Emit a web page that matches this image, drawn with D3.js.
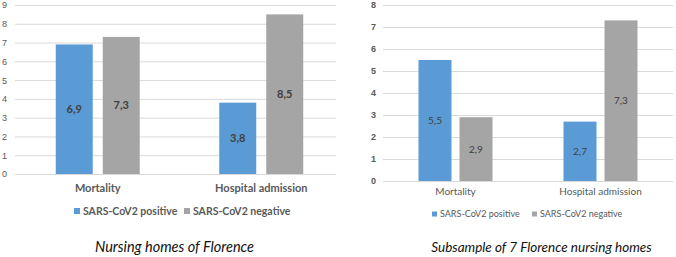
<!DOCTYPE html>
<html>
<head>
<meta charset="utf-8">
<script src="https://cdnjs.cloudflare.com/ajax/libs/d3/7.8.5/d3.min.js"></script>
<style>
    body { margin: 0; background: #fff; }
    svg { display: block; font-family: Lato, "Open Sans", sans-serif; }
</style>
</head>
<body>
<div id="chart"></div>
<script>
const categories = ['Mortality', 'Hospital admission'];
const seriesNames = ['SARS-CoV2 positive', 'SARS-CoV2 negative'];
const seriesColors = ['#5B9BD5', '#A5A5A5'];

const florencePositive = [6.9, 3.8];
const florenceNegative = [7.3, 8.5];
const florenceTicks = [0, 1, 2, 3, 4, 5, 6, 7, 8, 9];

const subsamplePositive = [5.5, 2.7];
const subsampleNegative = [2.9, 7.3];
const subsampleTicks = [0, 1, 2, 3, 4, 5, 6, 7, 8];

const titles = ['Nursing homes of Florence', 'Subsample of 7 Florence nursing homes'];

const itFormat = d3.formatLocale({ decimal: ',', thousands: '.', grouping: [3], currency: ['', '€'] }).format('.1f');

const svg = d3.select('#chart')
    .append('svg')
    .attr('width', 676)
    .attr('height', 257);

function drawPanel(cfg) {
    const g = svg.append('g');

    const x0 = d3.scaleBand()
        .domain(categories)
        .range([cfg.left, cfg.right]);

    const x1 = d3.scaleBand()
        .domain(seriesNames)
        .range([0, cfg.groupWidth])
        .paddingInner(cfg.barGap);

    const y = d3.scaleLinear()
        .domain([0, d3.max(cfg.ticks)])
        .range([cfg.bottom, cfg.top]);

    // gridlines + tick labels
    const yAxis = g.append('g')
        .attr('transform', `translate(${cfg.gridLeft},0)`)
        .call(d3.axisLeft(y)
            .tickValues(cfg.ticks)
            .tickSize(-(cfg.gridRight - cfg.gridLeft))
            .tickPadding(cfg.tickPadding)
            .tickFormat(d3.format('d')));
    yAxis.select('.domain').remove();
    yAxis.selectAll('line').attr('stroke', '#D9D9D9');
    yAxis.selectAll('text')
        .attr('fill', '#595959')
        .style('font-size', cfg.tickFont)
        .style('font-weight', cfg.tickWeight);

    const rows = categories.map((c, i) => ({
        category: c,
        values: [cfg.positive[i], cfg.negative[i]]
    }));

    const groups = g.selectAll('.group')
        .data(rows)
        .join('g')
        .attr('class', 'group')
        .attr('transform', d => `translate(${x0(d.category) + x0.bandwidth() / 2 - cfg.groupWidth / 2},0)`);

    const cells = groups.selectAll('.cell')
        .data(d => d.values.map((v, j) => ({ series: seriesNames[j], value: v, color: seriesColors[j] })))
        .join('g')
        .attr('class', 'cell');

    cells.append('rect')
        .attr('x', d => x1(d.series))
        .attr('y', d => y(d.value))
        .attr('width', x1.bandwidth())
        .attr('height', d => y(0) - y(d.value))
        .attr('fill', d => d.color);

    cells.append('text')
        .attr('x', d => x1(d.series) + x1.bandwidth() / 2)
        .attr('y', d => (y(d.value) + y(0)) / 2)
        .attr('dy', '0.35em')
        .attr('text-anchor', 'middle')
        .attr('fill', '#404040')
        .style('font-size', cfg.valueFont)
        .style('font-weight', cfg.valueWeight)
        .text(d => itFormat(d.value));

    // category labels
    g.selectAll('.cat')
        .data(categories)
        .join('text')
        .attr('class', 'cat')
        .attr('x', d => x0(d) + x0.bandwidth() / 2)
        .attr('y', cfg.catY)
        .attr('text-anchor', 'middle')
        .attr('fill', '#595959')
        .style('font-size', cfg.catFont)
        .style('font-weight', cfg.catWeight)
        .text(d => d);

    // legend
    const legend = g.selectAll('.legend')
        .data(seriesNames)
        .join('g')
        .attr('class', 'legend')
        .attr('transform', (d, i) => `translate(${cfg.legendX[i]},${cfg.legendY})`);
    legend.append('rect')
        .attr('x', 0)
        .attr('y', -cfg.swatch / 2)
        .attr('width', cfg.swatch)
        .attr('height', cfg.swatch)
        .attr('fill', (d, i) => seriesColors[i]);
    legend.append('text')
        .attr('x', cfg.swatch + 3)
        .attr('dy', '0.35em')
        .attr('fill', '#595959')
        .style('font-size', cfg.legendFont)
        .style('font-weight', cfg.legendWeight)
        .text(d => d);

    // caption
    g.append('text')
        .attr('x', cfg.titleX)
        .attr('y', 252)
        .attr('text-anchor', 'middle')
        .attr('fill', '#111')
        .style('font-size', cfg.titleFont)
        .style('font-style', 'italic')
        .text(cfg.title);
}

drawPanel({
    positive: florencePositive,
    negative: florenceNegative,
    ticks: florenceTicks,
    title: titles[0],
    left: 16, right: 343,
    gridLeft: 15, gridRight: 336,
    top: 5, bottom: 174,
    groupWidth: 84, barGap: 0.213,
    tickPadding: 8, tickFont: '9px', tickWeight: 'normal',
    valueFont: '11px', valueWeight: 'bold',
    catY: 192, catFont: '11px', catWeight: 'bold',
    legendX: [74, 184], legendY: 211, swatch: 6,
    legendFont: '10.5px', legendWeight: 'bold',
    titleX: 174.5, titleFont: '14.5px'
});

drawPanel({
    positive: subsamplePositive,
    negative: subsampleNegative,
    ticks: subsampleTicks,
    title: titles[1],
    left: 383, right: 673,
    gridLeft: 383, gridRight: 673,
    top: 5, bottom: 181,
    groupWidth: 74, barGap: 0.195,
    tickPadding: 7, tickFont: '9px', tickWeight: 'bold',
    valueFont: '10px', valueWeight: 'normal',
    catY: 195, catFont: '10px', catWeight: 'normal',
    legendX: [432, 532], legendY: 214, swatch: 5,
    legendFont: '9px', legendWeight: 'normal',
    titleX: 541.5, titleFont: '13.5px'
});
</script>
</body>
</html>
